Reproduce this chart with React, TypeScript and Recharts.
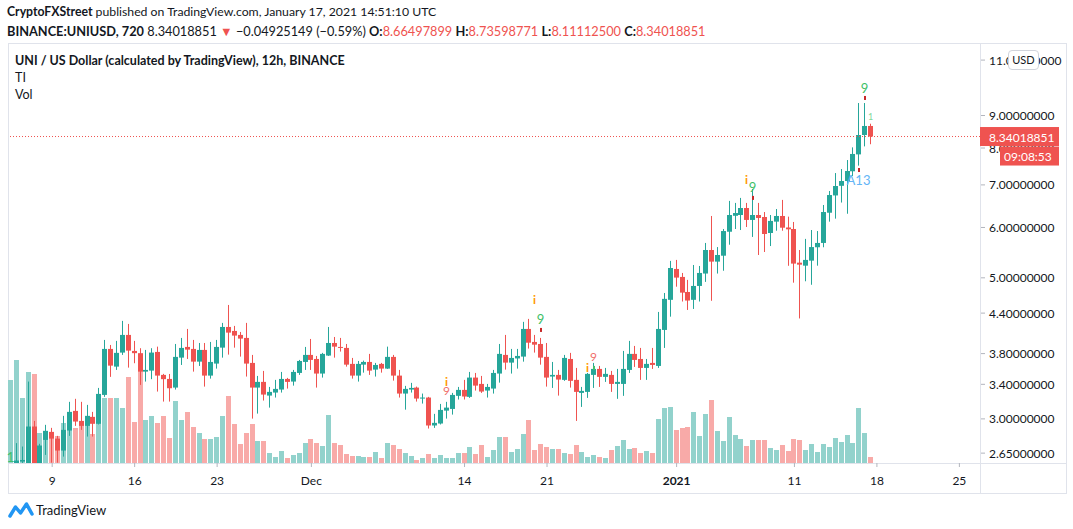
import React from "react";
import { ComposedChart, Bar, XAxis, YAxis, ReferenceLine } from "recharts";

const FONT = 'Lato, "Noto Sans", sans-serif';
const UP = "#26a69a";
const DOWN = "#ef5350";
const UP_VOL = "#92d2cc";
const DOWN_VOL = "#f8aaa8";
const TEXT = "#131722";
const LINE = "#e0e3eb";

// 12h candles, the first one opens 2020-11-05 12:00 UTC
const START = Date.UTC(2020, 10, 5, 12);
const HALF_DAY = 12 * 3600 * 1000;
const SLOTS = 165; // candles plus the empty space on the right

const opens = [
  2.45, 2.55, 2.57, 2.52, 2.918, 2.55, 2.78, 2.862, 2.793, 2.675,
  2.876, 3.088, 2.978, 2.925, 3.022, 2.947, 3.272, 3.865, 3.625, 3.814,
  4.066, 3.837, 3.806, 3.56, 3.573, 3.823, 3.518, 3.467, 3.36, 3.745,
  3.893, 3.865, 3.691, 3.851, 3.509, 3.665, 3.883, 4.185, 4.125, 4.066,
  4.022, 3.674, 3.36, 3.43, 3.264, 3.3, 3.336, 3.467, 3.434, 3.543,
  3.687, 3.782, 3.727, 3.535, 3.773, 3.949, 3.893, 3.879, 3.661, 3.509,
  3.651, 3.687, 3.586, 3.661, 3.599, 3.755, 3.509, 3.288, 3.336, 3.36,
  3.229, 3.241, 2.929, 2.95, 3.091, 3.11, 3.261, 3.332, 3.249, 3.484,
  3.405, 3.324, 3.348, 3.535, 3.782, 3.678, 3.734, 3.759, 4.155, 3.964,
  3.935, 3.755, 3.497, 3.518, 3.455, 3.727, 3.455, 3.296, 3.308, 3.518,
  3.595, 3.493, 3.518, 3.405, 3.405, 3.582, 3.796, 3.727, 3.608, 3.674,
  3.634, 4.14, 4.617, 5.163, 5.016, 4.75, 4.617, 4.855, 5.078, 5.53,
  5.302, 5.417, 5.908, 6.259, 6.277, 6.438, 6.166, 6.277, 6.232, 5.881,
  6.128, 6.255, 6.0, 5.967, 5.282, 5.225, 5.321, 5.585, 5.673, 6.329,
  6.738, 6.977, 7.099, 7.354, 7.818, 8.386, 8.665,
];

const highs = [
  2.53, 2.748, 2.714, 3.434, 2.978, 2.741, 2.936, 2.904, 2.821, 3.033,
  3.191, 3.226, 3.191, 3.156, 3.077, 3.356, 3.993, 3.921, 3.979, 4.278,
  4.231, 3.979, 3.875, 3.851, 3.875, 3.897, 3.531, 3.53, 3.935, 4.022,
  4.155, 3.993, 3.949, 3.949, 3.964, 3.993, 4.247, 4.532, 4.201, 4.11,
  4.247, 3.782, 3.505, 3.569, 3.368, 3.455, 3.556, 3.48, 3.582, 3.714,
  3.893, 4.007, 3.768, 3.81, 4.185, 4.036, 4.022, 3.935, 3.741, 3.7,
  3.705, 3.796, 3.674, 3.674, 3.897, 3.782, 3.582, 3.381, 3.418, 3.372,
  3.288, 3.249, 3.055, 3.167, 3.191, 3.296, 3.368, 3.455, 3.556, 3.543,
  3.505, 3.405, 3.582, 3.935, 4.066, 3.865, 3.865, 4.263, 4.309, 4.066,
  4.022, 3.949, 3.687, 3.582, 3.782, 3.81, 3.608, 3.368, 3.543, 3.674,
  3.634, 3.608, 3.569, 3.595, 3.837, 3.979, 3.907, 3.879, 3.727, 3.879,
  4.419, 4.733, 5.316, 5.335, 5.089, 4.963, 5.238, 5.219, 5.673, 6.255,
  5.589, 5.967, 6.606, 6.558, 6.678, 6.558, 6.897, 6.558, 6.345, 6.277,
  6.415, 6.63, 6.24, 6.121, 5.53, 5.757, 5.945, 5.923, 6.509, 6.847,
  7.307, 7.414, 7.66, 8.019, 9.416, 9.416, 8.736,
];

const lows = [
  2.4, 2.5, 2.52, 2.5, 2.5, 2.52, 2.633, 2.56, 2.56, 2.617,
  2.821, 2.925, 2.883, 2.814, 2.814, 2.94, 3.249, 3.493, 3.582, 3.782,
  3.612, 3.67, 3.393, 3.434, 3.464, 3.312, 3.194, 3.194, 3.336, 3.647,
  3.727, 3.56, 3.634, 3.372, 3.471, 3.599, 3.745, 3.786, 3.883, 3.759,
  3.497, 3.003, 3.058, 3.206, 3.125, 3.241, 3.3, 3.348, 3.384, 3.518,
  3.582, 3.582, 3.36, 3.484, 3.768, 3.745, 3.828, 3.625, 3.471, 3.434,
  3.547, 3.518, 3.497, 3.547, 3.595, 3.446, 3.241, 3.102, 3.3, 3.194,
  3.171, 2.897, 2.904, 2.94, 3.003, 3.047, 3.218, 3.218, 3.237, 3.324,
  3.296, 3.241, 3.288, 3.421, 3.586, 3.535, 3.599, 3.691, 3.87, 3.814,
  3.651, 3.372, 3.356, 3.264, 3.443, 3.36, 2.978, 3.133, 3.237, 3.356,
  3.368, 3.43, 3.308, 3.226, 3.261, 3.543, 3.621, 3.455, 3.455, 3.595,
  3.608, 3.879, 4.344, 4.842, 4.589, 4.451, 4.467, 4.589, 4.927, 4.601,
  5.078, 5.13, 5.637, 5.967, 5.945, 6.01, 5.798, 5.431, 5.49, 5.61,
  5.93, 5.93, 5.223, 4.913, 4.316, 4.938, 4.876, 5.225, 5.585, 6.128,
  6.195, 6.567, 6.306, 7.229, 7.506, 8.048, 8.111,
];

const closes = [
  2.5, 2.58, 2.585, 2.918, 2.55, 2.724, 2.873, 2.793, 2.675, 2.883,
  3.077, 2.971, 2.925, 3.033, 2.947, 3.284, 3.865, 3.638, 3.81, 4.066,
  3.841, 3.806, 3.56, 3.582, 3.814, 3.509, 3.464, 3.352, 3.755, 3.879,
  3.855, 3.691, 3.851, 3.509, 3.687, 3.893, 4.185, 4.1, 4.056, 4.012,
  3.665, 3.36, 3.43, 3.276, 3.308, 3.344, 3.467, 3.43, 3.556, 3.7,
  3.782, 3.714, 3.535, 3.796, 3.949, 3.897, 3.883, 3.651, 3.509, 3.661,
  3.687, 3.573, 3.647, 3.599, 3.755, 3.509, 3.288, 3.344, 3.356, 3.229,
  3.241, 2.929, 2.957, 3.099, 3.125, 3.272, 3.332, 3.253, 3.484, 3.384,
  3.312, 3.368, 3.543, 3.796, 3.678, 3.741, 3.768, 4.155, 3.953, 3.925,
  3.745, 3.484, 3.518, 3.459, 3.741, 3.443, 3.308, 3.32, 3.531, 3.595,
  3.493, 3.531, 3.405, 3.43, 3.595, 3.796, 3.714, 3.608, 3.661, 3.647,
  4.155, 4.633, 5.181, 5.004, 4.739, 4.605, 4.855, 5.089, 5.53, 5.302,
  5.431, 5.923, 6.277, 6.322, 6.438, 6.166, 6.277, 6.21, 5.86, 6.144,
  6.255, 5.995, 5.96, 5.264, 5.244, 5.335, 5.589, 5.673, 6.345, 6.748,
  6.972, 7.099, 7.362, 7.83, 8.386, 8.665, 8.34,
];

const volumes = [
  83, 103, 65, 91, 89, 30, 30, 27, 27, 40,
  50, 35, 38, 47, 29, 63, 65, 65, 65, 55,
  86, 41, 92, 43, 47, 40, 47, 25, 62, 43,
  51, 36, 30, 24, 24, 26, 47, 67, 39, 19,
  30, 39, 22, 22, 10, 6, 12, 5, 8, 10,
  20, 24, 20, 17, 48, 20, 18, 9, 7, 7,
  6, 6, 11, 5, 20, 18, 14, 10, 7, 3,
  5, 9, 5, 8, 5, 5, 10, 10, 16, 9,
  18, 6, 13, 26, 26, 11, 14, 29, 43, 13,
  19, 16, 14, 14, 10, 9, 18, 11, 6, 8,
  6, 5, 13, 17, 23, 14, 15, 10, 12, 10,
  44, 55, 56, 33, 35, 36, 51, 27, 49, 63,
  32, 22, 46, 28, 24, 17, 23, 23, 23, 15,
  13, 18, 12, 24, 23, 13, 19, 11, 19, 16,
  25, 21, 28, 20, 55, 30, 6,
];

const priceTicks = [11, 9, 8, 7, 6, 5, 4.4, 3.8, 3.4, 3, 2.65];
const LAST_PRICE = 8.34018851;
const COUNTDOWN = "09:08:53";

const tickTimes = [
  "2020-11-09T00:00", "2020-11-16T00:00", "2020-11-23T00:00", "2020-12-01T00:00",
  "2020-12-14T00:00", "2020-12-21T00:00", "2021-01-01T00:00", "2021-01-11T00:00",
  "2021-01-18T00:00", "2021-01-25T00:00",
];
const tickLabels = ["9", "16", "23", "Dec", "14", "21", "2021", "11", "18", "25"];

// TD sequential marks: candle index, price anchor, kind
const markSlots = [0, 74, 74, 89, 90, 90, 98, 99, 99, 125, 126, 126, 145, 145, 146, 144, 144];
const markPrices = [2.614, 3.43, 3.322, 4.617, 4.301, 4.14, 3.608, 3.755, 3.608, 7.151, 6.947, 6.678, 9.94, 9.59, 8.97, 7.388, 7.125];
const markKinds = ["one", "flag", "sell9", "flag", "buy9", "dot", "flag", "sell9", "gdot", "flag", "buy9", "dot", "buy9", "dot", "oneSmall", "dot", "a13"];

const markStyle: Record<string, any> = {
  one: { text: "1", color: "#43c06b", size: 14 },
  oneSmall: { text: "1", color: "#7fd89a", size: 9 },
  flag: { text: "i", color: "#ff9800", size: 12, weight: 700 },
  sell9: { text: "9", color: "#f0706d", size: 12 },
  buy9: { text: "9", color: "#3fbf68", size: 13 },
  dot: { color: "#c62828" },
  gdot: { color: "#43c06b" },
  a13: { text: "A13", color: "#64b5f6", size: 13 },
};

const rows = Array.from({ length: SLOTS }, (_, i) => {
  const t = new Date(START + i * HALF_DAY).toISOString().slice(0, 16);
  if (i >= opens.length) return { t };
  const marks = markSlots
    .map((s, k) => (s === i ? { price: markPrices[k], kind: markKinds[k] } : null))
    .filter(Boolean);
  return { t, o: opens[i], h: highs[i], l: lows[i], c: closes[i], v: volumes[i], marks };
});

const candleRange = (d: any) => (d.o == null ? null : [d.l, d.h]);

// maps a price onto the log scale, using the bar's high-low range as reference
const logPos = (props: any) => {
  const { y, height, payload } = props;
  const span = Math.log(payload.h) - Math.log(payload.l);
  return (v: number) => (span > 0 ? y + (height * (Math.log(payload.h) - Math.log(v))) / span : y);
};

const valid = (props: any) =>
  props.payload && props.payload.o != null && isFinite(props.y) && isFinite(props.height);

const Candle = (props: any) => {
  if (!valid(props)) return null;
  const { x, y, width, height, payload } = props;
  const { o, c } = payload;
  const color = c >= o ? UP : DOWN;
  const yAt = logPos(props);
  const top = yAt(Math.max(o, c));
  const bottom = yAt(Math.min(o, c));
  const cx = Math.floor(x + width / 2);
  return (
    <g>
      <rect x={cx} y={y} width={1} height={Math.max(height, 1)} fill={color} />
      <rect x={cx - 2} y={top} width={5} height={Math.max(bottom - top, 1)} fill={color} />
    </g>
  );
};

const Marks = (props: any) => {
  if (!valid(props) || !props.payload.marks.length) return null;
  const { x, width, payload } = props;
  const yAt = logPos(props);
  const cx = Math.floor(x + width / 2);
  return (
    <g>
      {payload.marks.map((m: any, k: number) => {
        const s = markStyle[m.kind];
        const my = yAt(m.price);
        if (!s.text) return <rect key={k} x={cx} y={my - 2} width={2} height={4} fill={s.color} />;
        return (
          <text key={k} x={cx + 0.5} y={my} textAnchor="middle" dominantBaseline="central" fontFamily={FONT}
            fontSize={s.size} fontWeight={s.weight || 400} fill={s.color}>
            {s.text}
          </text>
        );
      })}
    </g>
  );
};

const VolumeBar = (props: any) => {
  const { x, y, width, height, payload } = props;
  if (!payload || payload.v == null || !isFinite(y)) return null;
  const cx = Math.floor(x + width / 2);
  return (
    <rect x={cx - 2} y={y} width={5} height={height} fill={payload.c >= payload.o ? UP_VOL : DOWN_VOL} />
  );
};

const PriceTick = (props: any) => {
  const { x, y, payload } = props;
  const v = payload.value;
  if (v === LAST_PRICE) {
    return (
      <g fontFamily={FONT}>
        <rect x={x} y={y - 9.5} width={79} height={19} fill={DOWN} />
        <text x={x + 9} y={y + 0.5} dominantBaseline="central" fontSize={12} fill="#fff">
          {LAST_PRICE.toFixed(8)}
        </text>
        <rect x={x + 20} y={y + 10} width={59} height={19} fill={DOWN} />
        <text x={x + 24} y={y + 20} dominantBaseline="central" fontSize={12} fill="#fff">
          {COUNTDOWN}
        </text>
      </g>
    );
  }
  return (
    <g fontFamily={FONT}>
      <line x1={x + 1} x2={x + 5} y1={y} y2={y} stroke="#b2b5be" />
      <text x={x + 9} y={y} dominantBaseline="central" fontSize={12} fill={TEXT}>
        {v.toFixed(8)}
      </text>
    </g>
  );
};

const TimeTick = (props: any) => {
  const { x, y, payload } = props;
  const i = tickTimes.indexOf(payload.value);
  if (i < 0) return null;
  const label = tickLabels[i];
  return (
    <g fontFamily={FONT}>
      <line x1={x} x2={x} y1={y} y2={y + 4} stroke="#b2b5be" />
      <text x={x} y={y + 17} textAnchor="middle" dominantBaseline="central" fontSize={12}
        fontWeight={label === "2021" ? 700 : 400} fill={TEXT}>
        {label}
      </text>
    </g>
  );
};

const TvLogo = () => (
  <svg width={26} height={18} viewBox="0 0 26 18">
    <path d="M2 15 L7.5 6 L12.5 12 L18.5 3 L24 13" fill="none" stroke="#2196f3" strokeWidth={3.5}
      strokeLinejoin="round" strokeLinecap="round" />
  </svg>
);

const red = { color: DOWN };

export default function App() {
  return (
    <div style={{ position: "fixed", left: 0, top: 0, width: 1073, height: 529, background: "#fff",
      fontFamily: FONT, color: TEXT, overflow: "hidden" }}>
      {/* pane frame */}
      <div style={{ position: "absolute", left: 8, top: 43, width: 1057, height: 449, border: `1px solid ${LINE}` }} />
      <div style={{ position: "absolute", left: 8, top: 463, width: 1058, height: 1, background: LINE }} />
      <div style={{ position: "absolute", left: 980, top: 43, width: 1, height: 450, background: LINE }} />

      <div style={{ position: "absolute", left: 0, top: 0 }}>
        <ComposedChart width={1073} height={529} data={rows}
          margin={{ top: 44, right: 7, bottom: 36, left: 8 }}>
          <XAxis xAxisId="x" dataKey="t" ticks={tickTimes} interval={0} tick={<TimeTick />}
            axisLine={false} tickLine={false} tickSize={0} tickMargin={0} height={30} />
          <XAxis xAxisId="xv" dataKey="t" hide />
          <XAxis xAxisId="xm" dataKey="t" hide />
          <YAxis yAxisId="price" orientation="right" scale="log" domain={[2.557, 11.66]} allowDataOverflow
            ticks={[...priceTicks, LAST_PRICE]} interval={0} tick={<PriceTick />}
            axisLine={false} tickLine={false} tickSize={0} tickMargin={0} width={86} />
          <YAxis yAxisId="vol" domain={[0, 419]} hide />
          <Bar xAxisId="xv" yAxisId="vol" dataKey="v" barSize={5} shape={(p: any) => <VolumeBar {...p} />}
            isAnimationActive={false} />
          <Bar xAxisId="x" yAxisId="price" dataKey={candleRange} barSize={5} shape={(p: any) => <Candle {...p} />}
            isAnimationActive={false} />
          <ReferenceLine xAxisId="x" yAxisId="price" y={LAST_PRICE} stroke={DOWN} strokeDasharray="1 2" />
          <Bar xAxisId="xm" yAxisId="price" dataKey={candleRange} barSize={5} shape={(p: any) => <Marks {...p} />}
            isAnimationActive={false} />
        </ComposedChart>
      </div>

      {/* header */}
      <div style={{ position: "absolute", left: 7, top: 4, fontSize: 12.25, whiteSpace: "nowrap" }}>
        <b>CryptoFXStreet</b> published on TradingView.com, January 17, 2021 14:51:10 UTC
      </div>
      <div style={{ position: "absolute", left: 7, top: 23, fontSize: 12.75, whiteSpace: "nowrap" }}>
        <b>BINANCE:UNIUSD, 720</b> 8.34018851 <span style={red}>▼</span> −0.04925149 (−0.59%){" "}
        <b>O:</b><span style={red}>8.66497899</span> <b>H:</b><span style={red}>8.73598771</span>{" "}
        <b>L:</b><span style={red}>8.11112500</span> <b>C:</b><span style={red}>8.34018851</span>
      </div>

      {/* legend inside the pane */}
      <div style={{ position: "absolute", left: 15, top: 53, fontSize: 12.5, fontWeight: 700, whiteSpace: "nowrap" }}>
        UNI / US Dollar (calculated by TradingView), 12h, BINANCE
      </div>
      <div style={{ position: "absolute", left: 15, top: 70, fontSize: 12.5 }}>TI</div>
      <div style={{ position: "absolute", left: 15, top: 87, fontSize: 12.5 }}>Vol</div>

      <div style={{ position: "absolute", left: 1008, top: 50, width: 29, height: 18, border: "1px solid #d1d4dc",
        borderRadius: 4, background: "#fff", fontSize: 11, lineHeight: "18px", textAlign: "center" }}>
        USD
      </div>

      <div style={{ position: "absolute", left: 8, top: 501, display: "flex", alignItems: "center", gap: 2 }}>
        <TvLogo />
        <span style={{ fontSize: 13 }}>TradingView</span>
      </div>
    </div>
  );
}
